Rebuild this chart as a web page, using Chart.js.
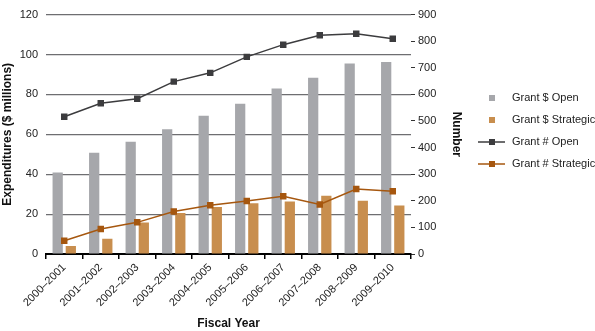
<!DOCTYPE html>
<html>
<head>
<meta charset="utf-8">
<script src="https://cdn.jsdelivr.net/npm/chart.js@4.4.1/dist/chart.umd.min.js"></script>
<style>
  html, body { margin: 0; padding: 0; background: #fff; }
  #wrap { width: 595px; height: 331px; position: relative; }
</style>
</head>
<body>
<div id="wrap"><canvas id="grafico"></canvas></div>
<script>
// datos
const anios = ['2000–2001', '2001–2002', '2002–2003', '2003–2004', '2004–2005',
               '2005–2006', '2006–2007', '2007–2008', '2008–2009', '2009–2010'];
const dolaresOpen = [40.8, 50.8, 56.3, 62.5, 69.3, 75.3, 83, 88.3, 95.5, 96.2];
const dolaresStrategic = [4.0, 7.6, 15.8, 20.5, 23.5, 25.5, 26.3, 29.2, 26.7, 24.3];
const numeroOpen = [516, 567, 584, 648, 681, 741, 787, 822, 828, 809];
const numeroStrategic = [50, 94, 119, 160, 183, 199, 217, 186, 244, 236];

const gris = '#a6a7ab';
const naranja = '#c88e4e';
const grisLinea = '#3c3c3e';
const cafeLinea = '#a6570f';

Chart.defaults.font.family = '"Liberation Sans", Arial, sans-serif';
Chart.defaults.font.size = 11;
Chart.defaults.color = '#333';

// leyenda propia a la derecha (cuadros y línea con marcador)
const leyendaDerecha = {
    id: 'leyendaDerecha',
    afterDraw(chart) {
        const ctx = chart.ctx;
        const x0 = 492, xTexto = 512, y0 = 98, paso = 22;
        ctx.save();
        ctx.font = '11px "Liberation Sans", Arial, sans-serif';
        ctx.textBaseline = 'middle';
        chart.data.datasets.forEach((ds, i) => {
            const y = y0 + i * paso;
            if (ds.type === 'line') {
                ctx.strokeStyle = ds.borderColor;
                ctx.lineWidth = 1.5;
                ctx.beginPath();
                ctx.moveTo(478, y);
                ctx.lineTo(505, y);
                ctx.stroke();
                ctx.fillStyle = ds.borderColor;
                ctx.fillRect(x0 - 3, y - 3, 6, 6);
            } else {
                ctx.fillStyle = ds.backgroundColor;
                ctx.fillRect(x0 - 3, y - 3, 6, 6);
            }
            ctx.fillStyle = '#222';
            ctx.fillText(ds.label, xTexto, y);
        });
        ctx.restore();
    }
};

new Chart(document.getElementById('grafico'), {
    type: 'bar',
    data: {
        labels: anios,
        datasets: [
            { type: 'bar', label: 'Grant $ Open', data: dolaresOpen, backgroundColor: gris,
              yAxisID: 'y', categoryPercentage: 0.72, barPercentage: 0.78, order: 3 },
            { type: 'bar', label: 'Grant $ Strategic', data: dolaresStrategic, backgroundColor: naranja,
              yAxisID: 'y', categoryPercentage: 0.72, barPercentage: 0.78, order: 4 },
            { type: 'line', label: 'Grant # Open', data: numeroOpen, borderColor: grisLinea,
              backgroundColor: grisLinea, borderWidth: 1.5, pointStyle: 'rect', pointRadius: 3.5,
              yAxisID: 'y2', order: 1 },
            { type: 'line', label: 'Grant # Strategic', data: numeroStrategic, borderColor: cafeLinea,
              backgroundColor: cafeLinea, borderWidth: 1.5, pointStyle: 'rect', pointRadius: 3.5,
              yAxisID: 'y2', order: 2 }
        ]
    },
    options: {
        responsive: true,
        maintainAspectRatio: false,
        animation: false,
        layout: { padding: { top: 13, right: 128, left: 0, bottom: 0 } },
        plugins: {
            legend: { display: false },
            tooltip: { enabled: false }
        },
        scales: {
            x: {
                grid: { offset: true, drawOnChartArea: false, drawTicks: true, tickLength: 5, color: '#000', lineWidth: 1.5 },
                border: { display: true, color: '#000', width: 2 },
                ticks: { maxRotation: 45, minRotation: 45, padding: 2, color: '#222' },
                title: { display: true, text: 'Fiscal Year', font: { weight: 'bold', size: 12 }, color: '#111', padding: { top: 0, bottom: 0 } },
                afterFit(scale) { scale.height = 77; }
            },
            y: {
                position: 'left',
                min: 0, max: 120,
                ticks: { stepSize: 20, padding: 8, color: '#222' },
                grid: { color: '#6e6e71', lineWidth: 1.2, drawTicks: false },
                border: { display: false },
                title: { display: true, text: 'Expenditures ($ millions)', font: { weight: 'bold', size: 12 }, color: '#111', padding: { top: 0, bottom: 0 } },
                afterFit(scale) { scale.width = 46; }
            },
            y2: {
                position: 'right',
                min: 0, max: 900,
                ticks: { stepSize: 100, padding: 3, color: '#222' },
                grid: { drawOnChartArea: false, drawTicks: true, tickLength: 4, color: '#333', lineWidth: 1 },
                border: { display: false },
                title: { display: true, text: 'Number', font: { weight: 'bold', size: 12 }, color: '#111', padding: { top: 3, bottom: 0 } },
                afterFit(scale) { scale.width = 56; }
            }
        }
    },
    plugins: [leyendaDerecha]
});
</script>
</body>
</html>
